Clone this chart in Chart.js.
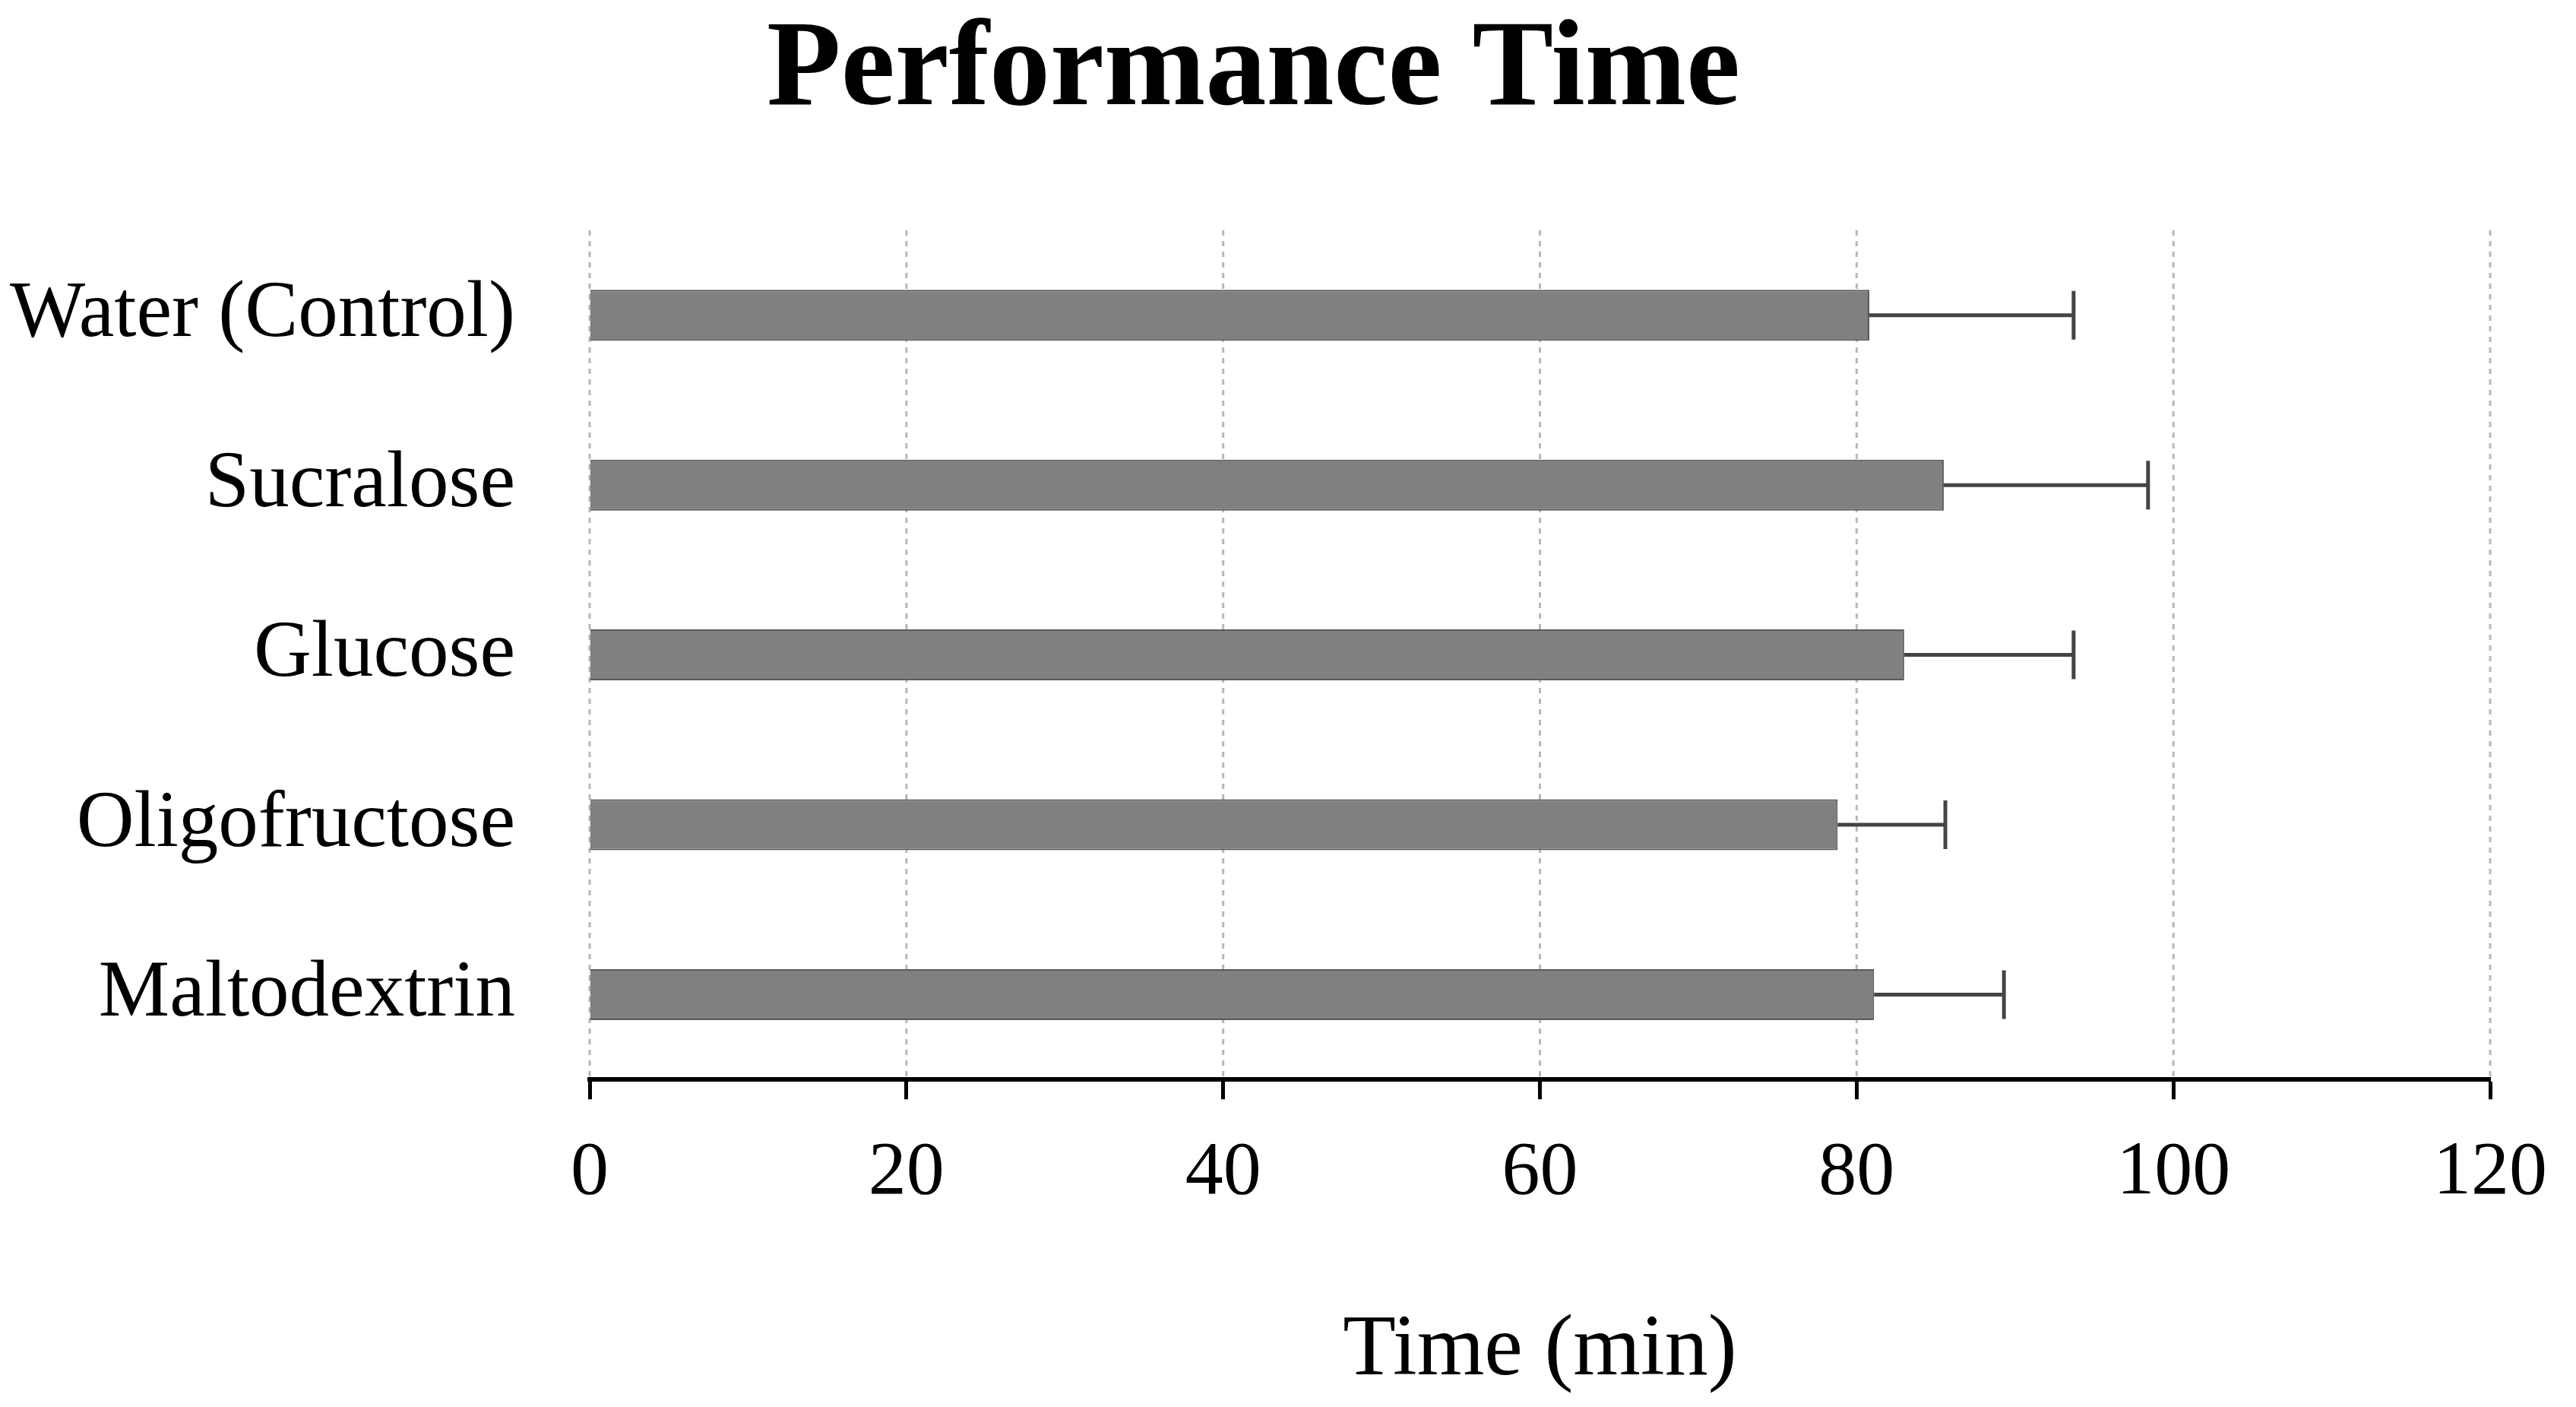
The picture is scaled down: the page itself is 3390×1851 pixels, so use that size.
<!DOCTYPE html>
<html>
<head>
<meta charset="utf-8">
<script src="https://cdn.jsdelivr.net/npm/chart.js@4/dist/chart.umd.min.js"></script>
<style>
  body { margin: 0; background: #fff; }
  #wrap { width: 3390px; height: 1851px; }
</style>
</head>
<body>
<div id="wrap"><canvas id="chart" width="3390" height="1851"></canvas></div>
<script>
const categories = ["Water (Control)", "Sucralose", "Glucose", "Oligofructose", "Maltodextrin"]
const means = [80.8, 85.5, 83.0, 78.8, 81.1]
const upperErr = [93.7, 98.4, 93.7, 85.6, 89.3]
const xTicks = [0, 20, 40, 60, 80, 100, 120]

const serif = "'Liberation Serif', 'Times New Roman', serif"

// dashed vertical grid lines, drawn under the bars
const dashedGrid = {
    id: 'dashedGrid',
    beforeDatasetsDraw(chart) {
        const ctx = chart.ctx
        const xs = chart.scales.x
        const area = chart.chartArea
        ctx.save()
        ctx.strokeStyle = '#b8b8b8'
        ctx.lineWidth = 3
        ctx.setLineDash([7, 7])
        for (let v of xTicks) {
            const x = xs.getPixelForValue(v)
            ctx.beginPath()
            ctx.moveTo(x, area.top)
            ctx.lineTo(x, area.bottom)
            ctx.stroke()
        }
        ctx.restore()
    }
}

const errorBars = {
    id: 'errorBars',
    afterDatasetsDraw(chart) {
        const ctx = chart.ctx
        const xs = chart.scales.x
        const meta = chart.getDatasetMeta(0)
        ctx.save()
        ctx.strokeStyle = '#444'
        ctx.lineWidth = 5
        for (let i = 0; i < meta.data.length; i++) {
            const bar = meta.data[i]
            const x0 = xs.getPixelForValue(means[i])
            const x1 = xs.getPixelForValue(upperErr[i])
            ctx.beginPath()
            ctx.moveTo(x0, bar.y)
            ctx.lineTo(x1, bar.y)
            ctx.moveTo(x1, bar.y - 32)
            ctx.lineTo(x1, bar.y + 32)
            ctx.stroke()
        }
        ctx.restore()
    }
}

new Chart(document.getElementById('chart'), {
    type: 'bar',
    data: {
        labels: categories,
        datasets: [{
            data: means,
            backgroundColor: '#808080',
            borderColor: '#5a5a5a',
            borderWidth: 2,
            categoryPercentage: 1,
            barPercentage: 0.3
        }]
    },
    options: {
        indexAxis: 'y',
        responsive: false,
        animation: false,
        devicePixelRatio: 1,
        layout: { padding: { left: 0, right: 91, top: 0, bottom: 0 } },
        plugins: {
            legend: { display: false },
            tooltip: { enabled: false },
            title: {
                display: true,
                text: 'Performance Time',
                color: '#000',
                font: { family: serif, size: 160, weight: 'bold' },
                padding: { top: 0, bottom: 111 }
            }
        },
        scales: {
            x: {
                min: 0, max: 120,
                afterBuildTicks: axis => { axis.ticks = xTicks.map(v => ({ value: v })) },
                border: { display: true, color: '#000', width: 6 },
                grid: {
                    drawOnChartArea: false, drawTicks: true,
                    tickColor: '#000', tickLength: 26, tickWidth: 5
                },
                ticks: { color: '#000', padding: 38, font: { family: serif, size: 100 } },
                title: {
                    display: true, text: 'Time (min)', color: '#000',
                    font: { family: serif, size: 114 }, padding: { top: 67, bottom: 5 }
                }
            },
            y: {
                afterFit: axis => { axis.width = 776 },
                border: { display: false },
                grid: { display: false },
                ticks: { color: '#000', padding: 90, font: { family: serif, size: 105 } }
            }
        }
    },
    plugins: [dashedGrid, errorBars]
})
</script>
</body>
</html>
